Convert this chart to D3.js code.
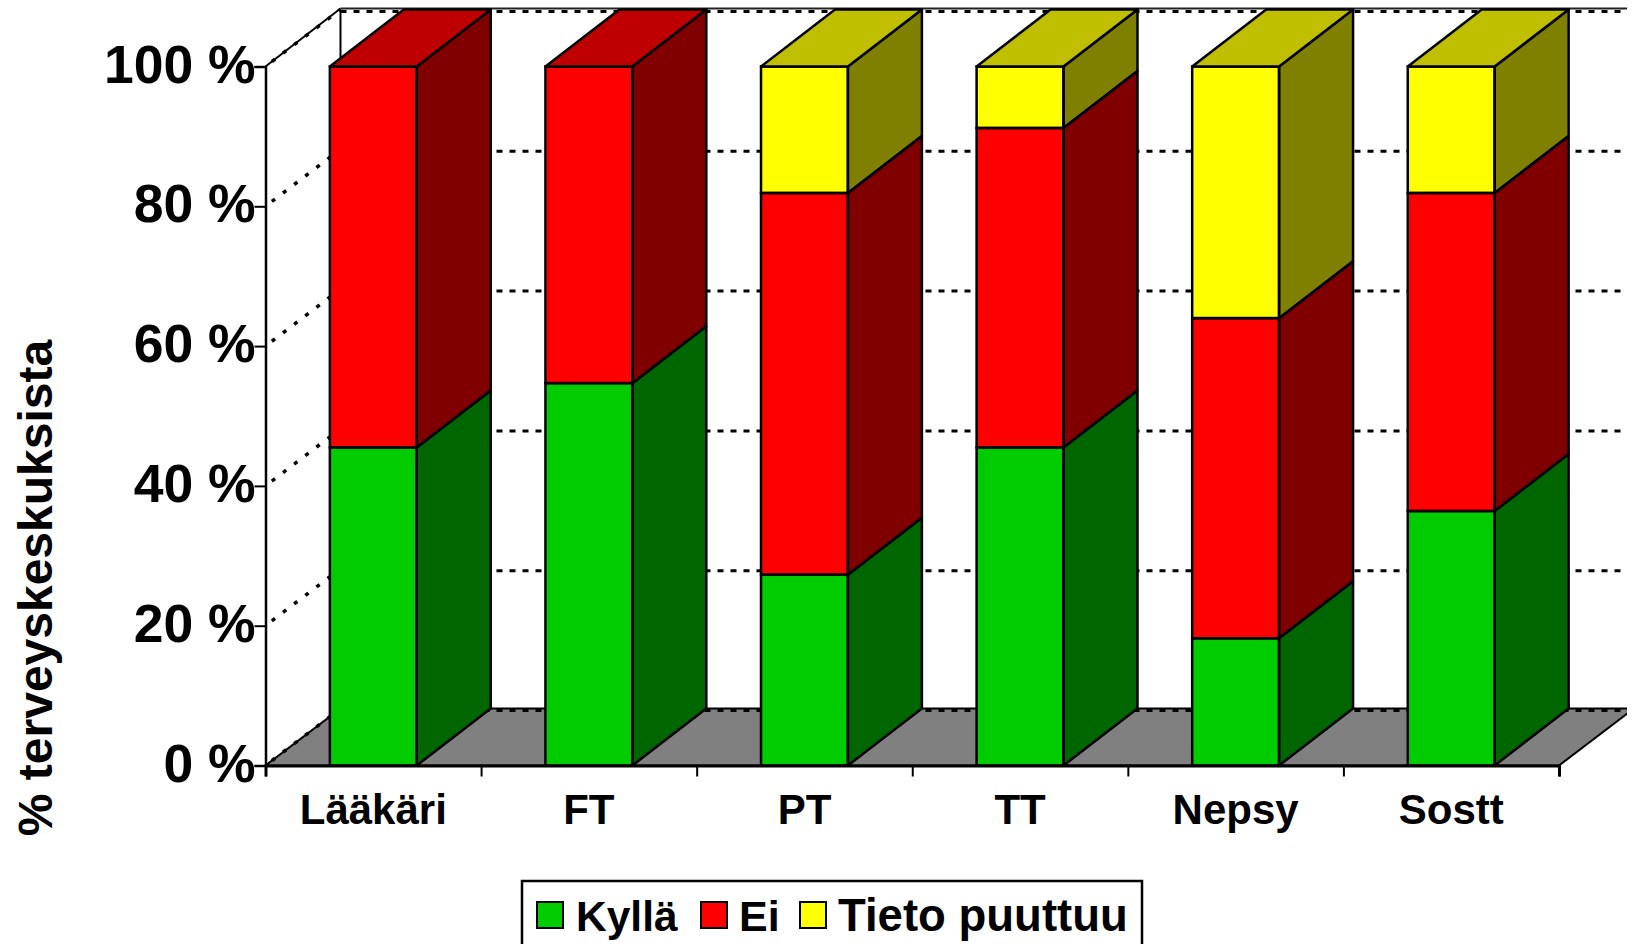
<!DOCTYPE html>
<html>
<head>
<meta charset="utf-8">
<script src="https://cdn.jsdelivr.net/npm/d3@7"></script>
<style>
  html, body { margin: 0; padding: 0; background: #fff; overflow: hidden; }
  text { font-family: "Liberation Sans", Arial, sans-serif; font-weight: bold; fill: #000; }
</style>
</head>
<body>
<div id="chart"></div>
<script>
  const categories = ["Lääkäri", "FT", "PT", "TT", "Nepsy", "Sostt"];
  const seriesNames = ["Kyllä", "Ei", "Tieto puuttuu"];
  const kylla = [45.5, 54.7, 27.3, 45.5, 18.2, 36.4];
  const ei = [54.5, 45.3, 54.6, 45.7, 45.8, 45.5];
  const tietoPuuttuu = [0, 0, 18.1, 8.8, 36, 18.1];
  const yTicks = [0, 20, 40, 60, 80, 100];

  const frontColors = ["#00cc00", "#ff0000", "#ffff00"];
  const sideColors = ["#006600", "#800000", "#808000"];
  const topColors = ["#009900", "#bf0000", "#bfbf00"];

  const width = 1632, height = 944;
  const plotLeft = 265.5, plotRight = 1559, plotTop = 66.5, plotBottom = 765.5;
  const depthX = 74, depthY = -57;   // the 3D offset of the columns
  const wallX = 75;                  // the wall goes slightly further than the columns

  const svg = d3.select("#chart").append("svg")
    .attr("width", width)
    .attr("height", height)
    .style("display", "block");

  svg.append("defs").append("clipPath").attr("id", "plotClip")
    .append("rect").attr("width", 1627).attr("height", height);

  const x = d3.scaleBand().domain(categories).range([plotLeft, plotRight])
    .paddingInner(0.597).paddingOuter(0.2985);
  const y = d3.scaleLinear().domain([0, 100]).range([plotBottom, plotTop]);

  const rows = categories.map((c, i) => ({
    category: c,
    [seriesNames[0]]: kylla[i],
    [seriesNames[1]]: ei[i],
    [seriesNames[2]]: tietoPuuttuu[i]
  }));
  const stacked = d3.stack().keys(seriesNames)(rows);

  const poly = pts => pts.map(p => p.join(",")).join(" ");

  // back of the box
  const back = svg.append("g").attr("clip-path", "url(#plotClip)");

  back.append("polygon")
    .attr("points", poly([
      [plotLeft, y(0)], [plotLeft + wallX, y(0) + depthY],
      [plotRight + wallX, y(0) + depthY], [plotRight, y(0)]
    ]))
    .attr("fill", "#808080")
    .attr("stroke", "#000")
    .attr("stroke-width", 2);

  back.append("line")
    .attr("x1", plotLeft + wallX).attr("x2", plotLeft + wallX)
    .attr("y1", y(0) + depthY).attr("y2", y(100) + depthY)
    .attr("stroke", "#000").attr("stroke-width", 2);

  back.append("line")
    .attr("x1", plotLeft + wallX).attr("x2", plotRight + wallX)
    .attr("y1", y(100) + depthY - 1).attr("y2", y(100) + depthY - 1)
    .attr("stroke", "#222").attr("stroke-width", 2);

  back.append("line")
    .attr("x1", plotLeft).attr("x2", plotLeft + wallX)
    .attr("y1", y(100)).attr("y2", y(100) + depthY - 1)
    .attr("stroke", "#000").attr("stroke-width", 2);

  // dashed gridlines, back wall and left wall
  back.selectAll(".gridBack").data(yTicks).join("line")
    .attr("class", "gridBack")
    .attr("x1", plotLeft + wallX).attr("x2", plotRight + wallX)
    .attr("y1", d => y(d) + depthY + 2).attr("y2", d => y(d) + depthY + 2)
    .attr("stroke", "#000").attr("stroke-width", 3)
    .attr("stroke-dasharray", "6 7");

  back.selectAll(".gridSide").data(yTicks).join("line")
    .attr("class", "gridSide")
    .attr("x1", plotLeft).attr("x2", plotLeft + wallX)
    .attr("y1", d => y(d)).attr("y2", d => y(d) + depthY)
    .attr("stroke", "#000").attr("stroke-width", 3.5)
    .attr("stroke-dasharray", "4 10")
    .attr("stroke-dashoffset", -8);

  // columns, left to right, bottom to top
  const cols = svg.selectAll(".col").data(categories).join("g").attr("class", "col");

  cols.each(function (c, i) {
    const g = d3.select(this);
    const x0 = x(c), x1 = x(c) + x.bandwidth();
    stacked.forEach((s, k) => {
      const v0 = s[i][0], v1 = s[i][1];
      if (v1 - v0 <= 0) return;
      g.append("polygon")
        .attr("points", poly([
          [x1, y(v0)], [x1 + depthX, y(v0) + depthY],
          [x1 + depthX, y(v1) + depthY], [x1, y(v1)]
        ]))
        .attr("fill", sideColors[k]);
      g.append("rect")
        .attr("x", x0).attr("y", y(v1))
        .attr("width", x.bandwidth()).attr("height", y(v0) - y(v1))
        .attr("fill", frontColors[k]);
    });
    // outlines after the fills so neighbouring segments don't eat them
    stacked.forEach((s, k) => {
      const v0 = s[i][0], v1 = s[i][1];
      if (v1 - v0 <= 0) return;
      g.append("polygon")
        .attr("points", poly([
          [x1, y(v0)], [x1 + depthX, y(v0) + depthY],
          [x1 + depthX, y(v1) + depthY], [x1, y(v1)]
        ]))
        .attr("fill", "none").attr("stroke", "#000").attr("stroke-width", 2.5)
        .attr("stroke-linejoin", "round");
      g.append("rect")
        .attr("x", x0).attr("y", y(v1))
        .attr("width", x.bandwidth()).attr("height", y(v0) - y(v1))
        .attr("fill", "none").attr("stroke", "#000").attr("stroke-width", 2.5);
    });
    // the lid takes the colour of the topmost segment that has a value
    const topIdx = d3.max(stacked, (s, k) => (s[i][1] - s[i][0] > 0 ? k : -1));
    g.append("polygon")
      .attr("points", poly([
        [x0, y(100)], [x0 + depthX, y(100) + depthY],
        [x1 + depthX, y(100) + depthY], [x1, y(100)]
      ]))
      .attr("fill", topColors[topIdx])
      .attr("stroke", "#000").attr("stroke-width", 2.5)
      .attr("stroke-linejoin", "round");
  });

  // axes
  const yAxis = d3.axisLeft(y).tickValues(yTicks).tickSize(11).tickPadding(0)
    .tickFormat(d => `${d} %`);
  const yG = svg.append("g").attr("transform", `translate(${plotLeft},0)`).call(yAxis);
  yG.select(".domain").attr("stroke-width", 2.5);
  yG.selectAll(".tick line").attr("stroke-width", 2);
  yG.selectAll("text")
    .style("font-size", "53.5px")
    .attr("dx", "0.02em")
    .attr("dy", "0.29em");

  const edge = d3.scaleLinear().domain([0, categories.length]).range([plotLeft, plotRight]);
  const xTicksG = svg.append("g").attr("transform", `translate(0,${plotBottom})`)
    .call(d3.axisBottom(edge).ticks(categories.length).tickSize(11).tickFormat(""));
  xTicksG.select(".domain").attr("stroke-width", 3);
  xTicksG.selectAll(".tick line").attr("stroke-width", 2);

  const xG = svg.append("g").attr("transform", `translate(0,${plotBottom})`)
    .call(d3.axisBottom(x).tickSize(0).tickPadding(29));
  xG.select(".domain").remove();
  xG.selectAll("text").style("font-size", "42px");

  svg.append("text")
    .attr("transform", "translate(52,588) rotate(-90)")
    .attr("text-anchor", "middle")
    .style("font-size", "48px")
    .text("% terveyskeskuksista");

  // legend, its bottom edge runs off the page like in the original
  const legend = svg.append("g");
  legend.append("rect")
    .attr("x", 522).attr("y", 881)
    .attr("width", 620).attr("height", 80)
    .attr("fill", "#fff").attr("stroke", "#000").attr("stroke-width", 2.5);

  const legendX = [537, 701, 800];
  const legendTextX = [576, 739, 838];
  const legendFont = [42.5, 43, 45.5];
  seriesNames.forEach((name, k) => {
    legend.append("rect")
      .attr("x", legendX[k]).attr("y", 902)
      .attr("width", 26).attr("height", 26)
      .attr("fill", frontColors[k])
      .attr("stroke", "#000").attr("stroke-width", 2);
    legend.append("text")
      .attr("x", legendTextX[k]).attr("y", 931)
      .style("font-size", `${legendFont[k]}px`)
      .text(name);
  });
</script>
</body>
</html>
